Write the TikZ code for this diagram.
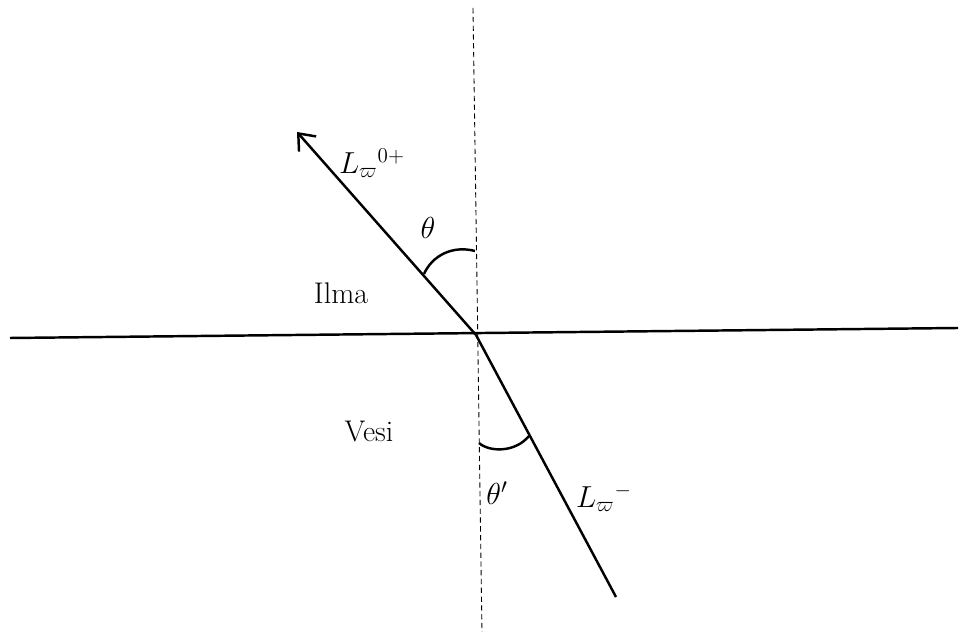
\documentclass[tikz,border=0pt]{standalone}
\usepackage{amsmath}
\usepackage{amssymb}
\usetikzlibrary{arrows.meta, positioning}

\tikzset{
  ray/.style={line width=1.4pt},
  normal/.style={densely dashed, line width=0.5pt},
  anglemark/.style={line width=1.4pt},
  lbl/.style={font=\fontsize{17}{20}\selectfont, inner sep=1pt}
}

\begin{document}
\begin{tikzpicture}[x=0.02cm, y=0.02cm]
    \useasboundingbox (0,0) rectangle (960,635);
    % points
    \coordinate (O) at (476,300);
    \coordinate (ntop) at (473,627);
    \coordinate (nbot) at (482,3);
    \coordinate (sleft) at (10,297);
    \coordinate (sright) at (958,307);
    \coordinate (up) at (297,503);
    \coordinate (down) at (616,38);

    \draw[normal] (ntop) -- (nbot);
    \draw[ray] (sleft) -- (sright);
    \draw[ray, -{Straight Barb[length=8pt, width=13pt]}] (O) -- (up);
    \draw[ray] (O) -- (down);

    % angles
    \coordinate (a1) at (424,361);
    \coordinate (a2) at (475,384);
    \coordinate (b1) at (479,192);
    \coordinate (b2) at (529,199);
    \draw[anglemark] (a1) .. controls (432,379) and (452,390) .. (a2);
    \draw[anglemark] (b1) .. controls (489,183) and (515,182) .. (b2);

    % labels
    \node[lbl] (Lup) at (372,472) {$L_{\varpi}{}^{0+}$};
    \node[lbl] (theta) at (428,407) {$\theta$};
    \node[lbl] (ilma) at (341,342) {Ilma};
    \node[lbl] (vesi) at (369,203) {Vesi};
    \node[lbl] (thetap) at (497,142) {$\theta'$};
    \node[lbl] (Ldown) at (604,137) {$L_{\varpi}{}^{-}$};
\end{tikzpicture}
\end{document}
